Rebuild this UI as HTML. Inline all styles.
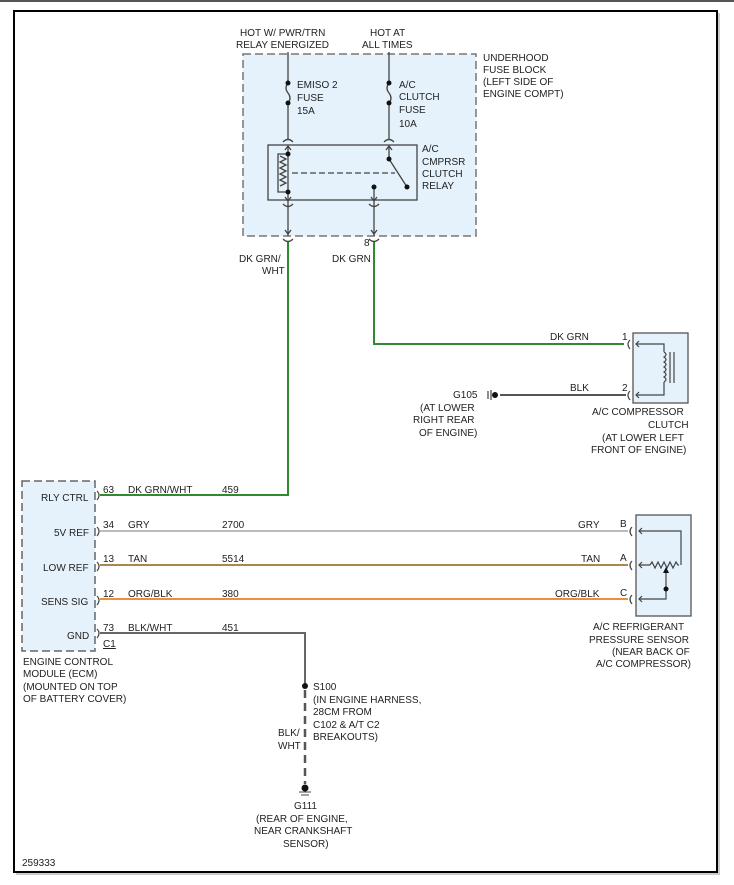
<!DOCTYPE html>
<html><head><meta charset="utf-8"><style>
html,body{margin:0;padding:0;background:#fff;}
svg{display:block;}
text{font-family:"Liberation Sans",Arial,sans-serif;font-size:10px;fill:#222;}
</style></head><body>
<svg width="734" height="885" viewBox="0 0 734 885" xmlns="http://www.w3.org/2000/svg">
<rect x="0" y="0" width="734" height="2" fill="#555"/>
<rect x="16" y="13" width="704" height="862" fill="#ccc"/>
<rect x="14" y="11" width="703" height="861" fill="#fff" stroke="#000" stroke-width="2"/>

<!-- fuse block -->
<rect x="243" y="54" width="233" height="182" fill="#e6f2fb" stroke="#777" stroke-width="1.5" stroke-dasharray="8,4"/>
<text x="240" y="36">HOT W/ PWR/TRN</text>
<text x="236" y="48">RELAY ENERGIZED</text>
<text x="370" y="36">HOT AT</text>
<text x="362" y="48">ALL TIMES</text>
<text x="483" y="61">UNDERHOOD</text>
<text x="483" y="73">FUSE BLOCK</text>
<text x="483" y="85">(LEFT SIDE OF</text>
<text x="483" y="97">ENGINE COMPT)</text>

<g stroke="#444" stroke-width="1.3" fill="none">
<line x1="288" y1="52" x2="288" y2="83"/>
<path d="M288 83 q-4 5 0 10 q4 5 0 10"/>
<line x1="288" y1="103" x2="288" y2="140"/>
<line x1="389" y1="52" x2="389" y2="83"/>
<path d="M389 83 q-4 5 0 10 q4 5 0 10"/>
<line x1="389" y1="103" x2="389" y2="140"/>
<path d="M283 142 q5 -5 10 0 M384 142 q5 -5 10 0"/>
<rect x="268" y="145" width="149" height="55"/>
<path d="M285 150 l3 -4 l3 4 M386 150 l3 -4 l3 4"/>
<line x1="288" y1="146" x2="288" y2="192"/>
<path d="M288 154 h-10 v38 h10"/>
<path d="M280 156 l6 3 l-6 3 l6 3 l-6 3 l6 3 l-6 3 l6 3 l-6 3 l6 3 l-6 3"/>
<line x1="292" y1="173" x2="395" y2="173" stroke-dasharray="6,3"/>
<line x1="389" y1="146" x2="389" y2="159"/>
<line x1="389" y1="159" x2="407" y2="187"/>
<line x1="288" y1="192" x2="288" y2="236"/>
<line x1="374" y1="187" x2="374" y2="236"/>
<path d="M285 197 l3 4 l3 -4 M371 197 l3 4 l3 -4"/>
<path d="M283 204 q5 5 10 0 M369 204 q5 5 10 0"/>
<path d="M285 230 l3 4 l3 -4 M371 230 l3 4 l3 -4"/>
<path d="M283 239 q5 5 10 0 M369 239 q5 5 10 0"/>
</g>
<g fill="#111">
<circle cx="288" cy="83" r="2.5"/><circle cx="288" cy="103" r="2.5"/>
<circle cx="389" cy="83" r="2.5"/><circle cx="389" cy="103" r="2.5"/>
<circle cx="288" cy="154" r="2.5"/><circle cx="288" cy="192" r="2.5"/>
<circle cx="389" cy="159" r="2.5"/><circle cx="407" cy="187" r="2.5"/>
<circle cx="374" cy="187" r="2.5"/>
</g>
<text x="297" y="88">EMISO 2</text><text x="297" y="101">FUSE</text><text x="297" y="114">15A</text>
<text x="399" y="88">A/C</text><text x="399" y="100">CLUTCH</text><text x="399" y="113">FUSE</text><text x="399" y="127">10A</text>
<text x="422" y="152">A/C</text><text x="422" y="165">CMPRSR</text><text x="422" y="177">CLUTCH</text><text x="422" y="189">RELAY</text>

<!-- green wires -->
<g stroke="#2e8b2e" stroke-width="2" fill="none">
<path d="M288 242 V495 H100"/>
<path d="M374 242 V344 H624"/>
</g>
<text x="239" y="262">DK GRN/</text><text x="262" y="274">WHT</text>
<text x="364" y="246">8</text><text x="332" y="262">DK GRN</text>

<!-- clutch -->
<rect x="633" y="333" width="55" height="70" fill="#e6f2fb" stroke="#555" stroke-width="1.3"/>
<g stroke="#444" stroke-width="1.2" fill="none">
<path d="M630 340 q-4 4 0 9 M630 391 q-4 4 0 9"/>
<path d="M639 341 l-3 3 l3 3 M639 392 l-3 3 l3 3"/>
<path d="M636 344 H664 V352 M636 395 H664 V382"/>
<path d="M664 352 q4 2.5 0 5 q4 2.5 0 5 q4 2.5 0 5 q4 2.5 0 5 q4 2.5 0 5 q4 2.5 0 5"/>
<line x1="670" y1="352" x2="670" y2="383"/><line x1="674" y1="352" x2="674" y2="383"/>
</g>
<text x="550" y="340">DK GRN</text><text x="622" y="340">1</text>
<text x="570" y="391">BLK</text><text x="622" y="391">2</text>
<line x1="500" y1="395" x2="626" y2="395" stroke="#555" stroke-width="2"/>
<line x1="488" y1="391" x2="488" y2="399" stroke="#444" stroke-width="1.2"/>
<line x1="491" y1="390" x2="491" y2="400" stroke="#444" stroke-width="1.2"/>
<circle cx="495" cy="395" r="3" fill="#111"/>
<text x="453" y="398">G105</text>
<text x="420" y="411">(AT LOWER</text><text x="413" y="423">RIGHT REAR</text><text x="419" y="436">OF ENGINE)</text>
<text x="592" y="415">A/C COMPRESSOR</text><text x="648" y="428">CLUTCH</text>
<text x="602" y="441">(AT LOWER LEFT</text><text x="591" y="453">FRONT OF ENGINE)</text>

<!-- ECM -->
<rect x="22" y="481" width="73" height="170" fill="#e6f2fb" stroke="#666" stroke-width="1.5" stroke-dasharray="8,4"/>
<g stroke="#444" stroke-width="1.2" fill="none">
<path d="M97 491 q4 4 0 9 M97 527 q4 4 0 9 M97 562 q4 4 0 9 M97 596 q4 4 0 9 M97 629 q4 4 0 9"/>
</g>
<text x="41" y="501">RLY CTRL</text><text x="54" y="536">5V REF</text>
<text x="43" y="571">LOW REF</text><text x="41" y="605">SENS SIG</text><text x="67" y="639">GND</text>
<text x="103" y="493">63</text><text x="128" y="493">DK GRN/WHT</text><text x="222" y="493">459</text>
<text x="103" y="528">34</text><text x="128" y="528">GRY</text><text x="222" y="528">2700</text>
<text x="103" y="562">13</text><text x="128" y="562">TAN</text><text x="222" y="562">5514</text>
<text x="103" y="597">12</text><text x="128" y="597">ORG/BLK</text><text x="222" y="597">380</text>
<text x="103" y="631">73</text><text x="128" y="631">BLK/WHT</text><text x="222" y="631">451</text>
<text x="103" y="647" text-decoration="underline">C1</text>
<text x="23" y="665">ENGINE CONTROL</text><text x="23" y="677">MODULE (ECM)</text>
<text x="23" y="690">(MOUNTED ON TOP</text><text x="23" y="702">OF BATTERY COVER)</text>

<line x1="100" y1="531" x2="628" y2="531" stroke="#bbb" stroke-width="2"/>
<line x1="100" y1="565" x2="628" y2="565" stroke="#a8884f" stroke-width="2"/>
<line x1="100" y1="599" x2="628" y2="599" stroke="#e8913a" stroke-width="2"/>
<path d="M100 633 H305 V686" stroke="#666" stroke-width="2" fill="none"/>

<!-- sensor -->
<rect x="636" y="515" width="55" height="101" fill="#e6f2fb" stroke="#555" stroke-width="1.3"/>
<g stroke="#444" stroke-width="1.2" fill="none">
<path d="M632 527 q-4 4 0 9 M632 561 q-4 4 0 9 M632 595 q-4 4 0 9"/>
<path d="M642 528 l-3 3 l3 3 M642 562 l-3 3 l3 3 M642 596 l-3 3 l3 3"/>
<path d="M639 531 H681 V565 M639 565 H650 M639 599 H666 V572"/>
<path d="M650 565 l2 -3 l3 6 l3 -6 l3 6 l3 -6 l3 6 l3 -6 l3 6 l3 -6 l2 3 h1"/>
</g>
<path d="M663 573 l3 -6 l3 6z" fill="#111"/>
<circle cx="666" cy="589" r="2.5" fill="#111"/>
<text x="578" y="528">GRY</text><text x="620" y="527">B</text>
<text x="581" y="562">TAN</text><text x="620" y="561">A</text>
<text x="555" y="597">ORG/BLK</text><text x="620" y="596">C</text>
<text x="593" y="630">A/C REFRIGERANT</text><text x="589" y="643">PRESSURE SENSOR</text>
<text x="612" y="655">(NEAR BACK OF</text><text x="596" y="667">A/C COMPRESSOR)</text>

<!-- S100 / G111 -->
<circle cx="305" cy="686" r="3" fill="#111"/>
<line x1="305" y1="690" x2="305" y2="784" stroke="#555" stroke-width="2.5" stroke-dasharray="8,5"/>
<circle cx="305" cy="788" r="3.5" fill="#111"/>
<line x1="299" y1="792" x2="311" y2="792" stroke="#444"/>
<line x1="301" y1="795" x2="309" y2="795" stroke="#444"/>
<text x="313" y="690">S100</text>
<text x="313" y="703">(IN ENGINE HARNESS,</text><text x="313" y="715">28CM FROM</text>
<text x="313" y="728">C102 &amp; A/T C2</text><text x="313" y="740">BREAKOUTS)</text>
<text x="278" y="736">BLK/</text><text x="278" y="749">WHT</text>
<text x="294" y="809">G111</text>
<text x="256" y="822">(REAR OF ENGINE,</text><text x="254" y="834">NEAR CRANKSHAFT</text><text x="283" y="847">SENSOR)</text>
<text x="22" y="866">259333</text>
</svg>
</body></html>
